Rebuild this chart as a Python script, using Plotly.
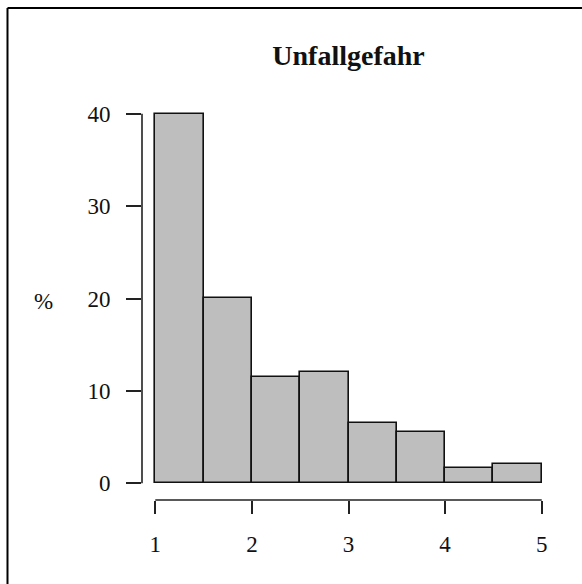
import plotly.graph_objects as go

# Data
bin_left = [1.0, 1.5, 2.0, 2.5, 3.0, 3.5, 4.0, 4.5]
bin_width = 0.5
percent = [40.0, 20.1, 11.5, 12.1, 6.5, 5.6, 1.7, 2.15]
x_ticks = [1, 2, 3, 4, 5]
y_ticks = [0, 10, 20, 30, 40]
title_text = "Unfallgefahr"
y_label = "%"

centers = [b + bin_width / 2 for b in bin_left]

FONT = "Liberation Serif"

fig = go.Figure()
fig.add_trace(go.Bar(
    x=centers, y=percent, width=[bin_width] * len(centers),
    marker=dict(color="#bebebe", line=dict(color="#111111", width=1.6)),
    hoverinfo="skip",
))

W, H = 582, 584
L, R, T, B = 141.7, 26.7, 98.5, 84

fig.update_layout(
    width=W, height=H,
    margin=dict(l=L, r=R, t=T, b=B, pad=0),
    paper_bgcolor="white", plot_bgcolor="white",
    showlegend=False,
    bargap=0,
    font=dict(family=FONT, size=24, color="#111111"),
    title=dict(text="<b>" + title_text + "</b>", x=(348.5) / W, xanchor="center",
               y=1 - 55 / H, yanchor="middle",
               font=dict(family=FONT, size=28, color="#111111")),
    xaxis=dict(range=[0.8625, 5.1375], tickvals=x_ticks, ticktext=[str(v) for v in x_ticks],
               ticks="outside", ticklen=13, tickwidth=1.6, tickcolor="#222222",
               showline=False, showgrid=False, zeroline=False,
               ticklabelstandoff=10, tickfont=dict(family=FONT, size=23)),
    yaxis=dict(range=[-1.8, 41.6], tickvals=y_ticks, ticktext=[str(v) for v in y_ticks],
               ticks="outside", ticklen=15, tickwidth=1.6, tickcolor="#222222",
               showline=False, showgrid=False, zeroline=False,
               ticklabelstandoff=11, tickfont=dict(family=FONT, size=23)),
)

# R-style axis lines spanning only the tick range
fig.add_shape(type="line", xref="x", yref="paper", x0=min(x_ticks), x1=max(x_ticks), y0=0, y1=0,
              line=dict(color="#222222", width=1.6), layer="above")
fig.add_shape(type="line", xref="paper", yref="y", x0=0, x1=0, y0=min(y_ticks), y1=max(y_ticks),
              line=dict(color="#222222", width=1.6), layer="above")

# y label
fig.add_annotation(text=y_label, xref="paper", yref="y", x=(43 - L) / 413.6, y=20,
                   xanchor="center", yanchor="middle", showarrow=False, yshift=-3,
                   font=dict(family=FONT, size=23, color="#111111"))

# frame (document box edges: top and left)
pw, ph = 413.6, 401.45
def px(xp):
    return (xp - L) / pw
def py(yp):
    return (H - B - yp) / ph
fig.add_shape(type="line", xref="paper", yref="paper", x0=px(7), x1=px(584), y0=py(7.5), y1=py(7.5),
              line=dict(color="black", width=2))
fig.add_shape(type="line", xref="paper", yref="paper", x0=px(7), x1=px(7), y0=py(7.5), y1=py(586),
              line=dict(color="black", width=2))

fig.write_html("out.html", config={"displayModeBar": False},
               post_script="document.body.style.margin='0';document.body.style.overflow='hidden';")
